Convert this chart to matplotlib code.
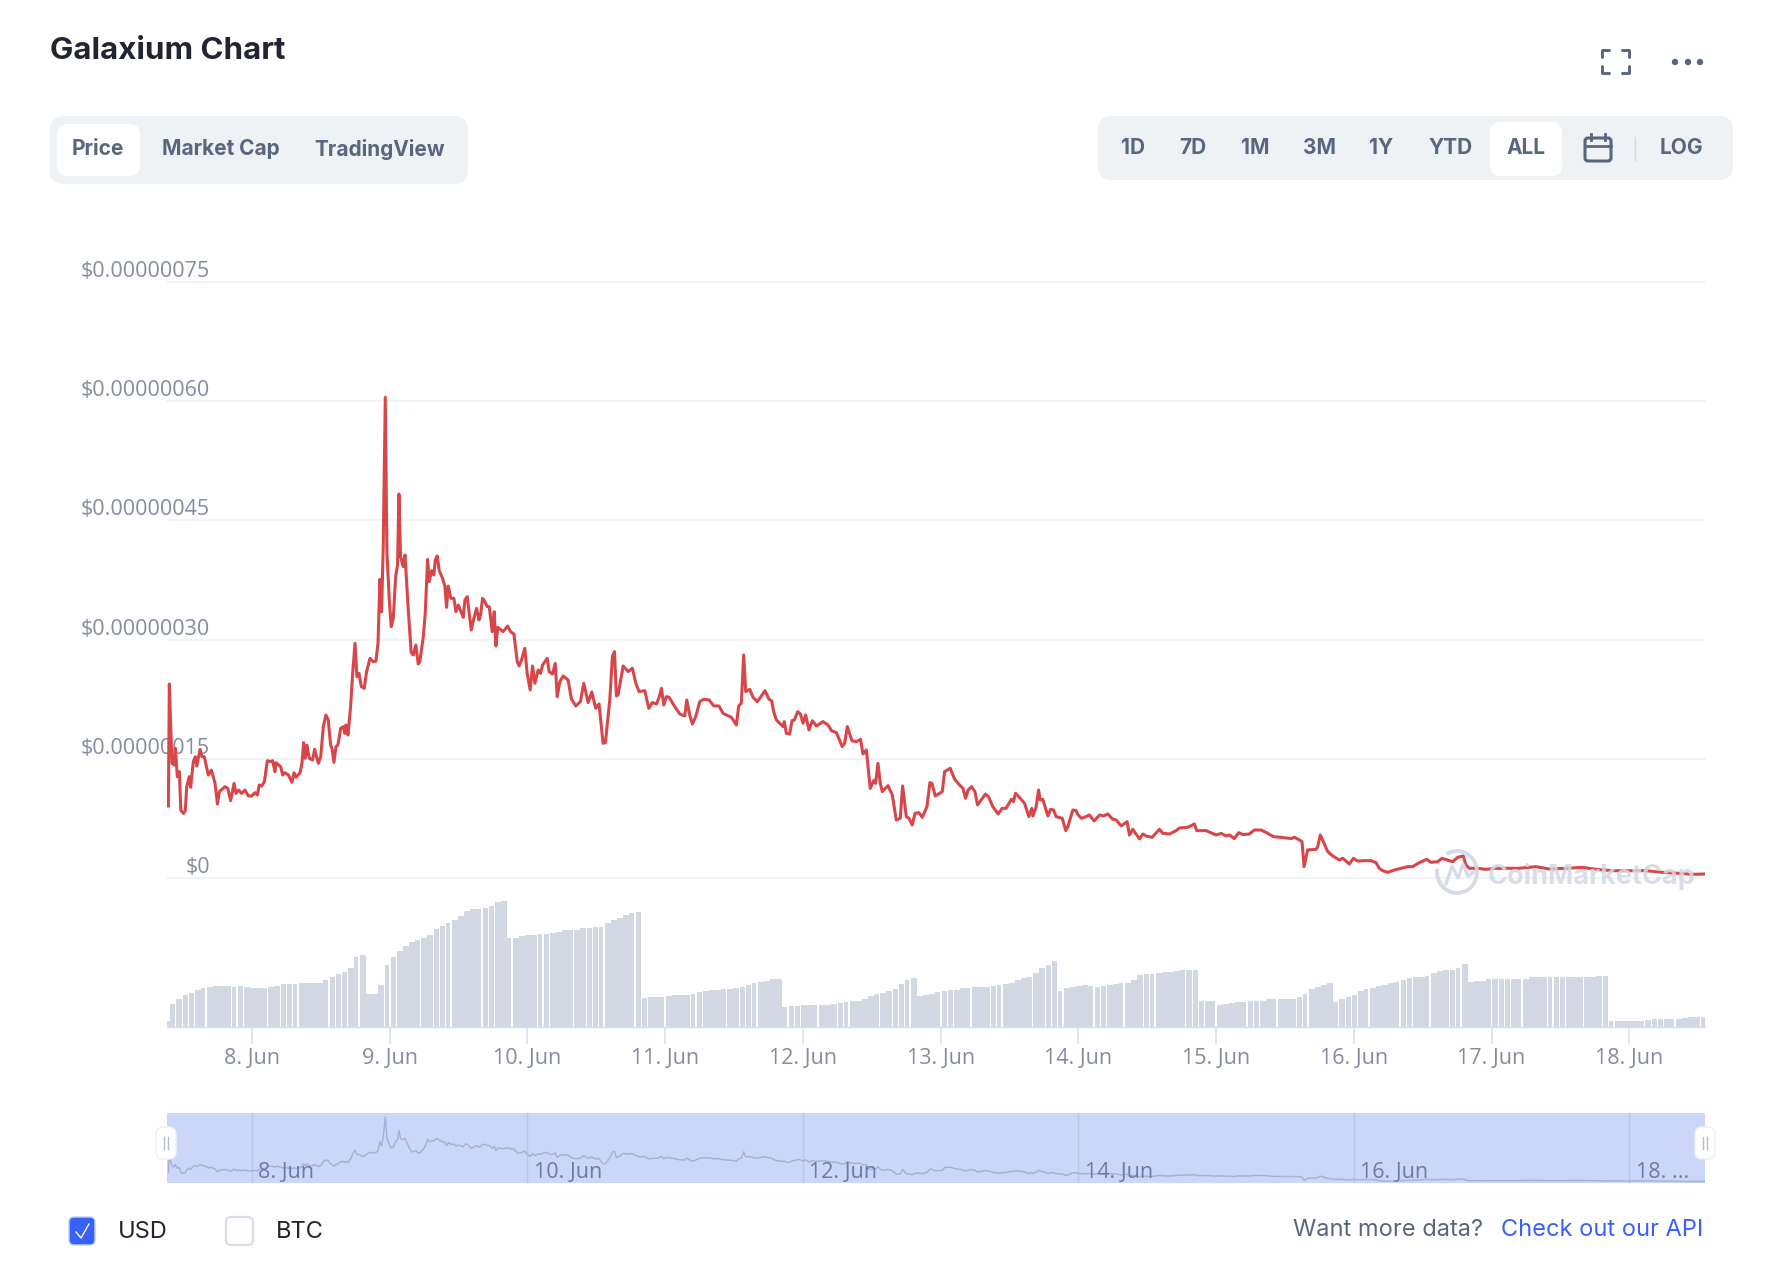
import matplotlib
matplotlib.use("Agg")
import matplotlib.pyplot as plt
from matplotlib.patches import Arc, Circle, FancyBboxPatch, Rectangle

W, H = 1780, 1282

# price, in billionths of a dollar, against day of June
price_days = [
    7.393, 7.400, 7.410, 7.420, 7.434, 7.444, 7.458, 7.473, 7.483, 7.502, 7.516, 7.526, 7.545, 7.555,
    7.574, 7.589, 7.599, 7.623, 7.637, 7.654, 7.683, 7.705, 7.732, 7.749, 7.763, 7.804, 7.824, 7.845,
    7.870, 7.884, 7.903, 7.925, 7.949, 7.974, 7.998, 8.022, 8.039, 8.053, 8.070, 8.090, 8.112, 8.136,
    8.150, 8.167, 8.174, 8.208, 8.223, 8.240, 8.264, 8.290, 8.305, 8.320, 8.349, 8.363, 8.375, 8.387,
    8.399, 8.416, 8.440, 8.455, 8.482, 8.499, 8.518, 8.537, 8.554, 8.571, 8.581, 8.595, 8.610, 8.624,
    8.644, 8.663, 8.673, 8.682, 8.697, 8.716, 8.731, 8.748, 8.762, 8.777, 8.794, 8.815, 8.832, 8.857,
    8.881, 8.900, 8.915, 8.929, 8.941, 8.953, 8.968, 8.980, 8.997, 9.011, 9.026, 9.043, 9.057, 9.067,
    9.079, 9.098, 9.111, 9.135, 9.156, 9.171, 9.190, 9.207, 9.219, 9.244, 9.258, 9.275, 9.287, 9.304,
    9.321, 9.331, 9.345, 9.360, 9.384, 9.401, 9.413, 9.425, 9.444, 9.466, 9.481, 9.498, 9.534, 9.546,
    9.563, 9.592, 9.611, 9.631, 9.648, 9.660, 9.674, 9.691, 9.708, 9.723, 9.744, 9.759, 9.771, 9.785,
    9.824, 9.856, 9.877, 9.902, 9.926, 9.940, 9.957, 9.981, 9.998, 10.020, 10.037, 10.054, 10.078,
    10.095, 10.110, 10.143, 10.158, 10.182, 10.202, 10.216, 10.235,
    10.259, 10.295, 10.320, 10.351, 10.385, 10.409, 10.441, 10.467, 10.496, 10.520, 10.549, 10.566,
    10.598, 10.617, 10.632, 10.646, 10.658, 10.695, 10.731, 10.762, 10.787, 10.811, 10.852, 10.881,
    10.907, 10.937, 10.956, 10.973, 10.990, 11.009, 11.028, 11.070, 11.106, 11.142, 11.157, 11.178,
    11.198, 11.222, 11.251, 11.280, 11.319, 11.353, 11.391, 11.420, 11.481, 11.517, 11.534, 11.553,
    11.570, 11.585, 11.614, 11.638, 11.669, 11.699, 11.725, 11.754, 11.773, 11.788, 11.807, 11.856,
    11.865, 11.880, 11.904, 11.921, 11.938, 11.962, 11.982, 12.001, 12.020, 12.044, 12.069, 12.098,
    12.146, 12.182, 12.207, 12.243, 12.286, 12.303, 12.323, 12.356, 12.388, 12.419, 12.436, 12.461,
    12.489, 12.514, 12.528, 12.545, 12.562, 12.577, 12.618, 12.649, 12.678, 12.707, 12.724, 12.751,
    12.770, 12.794, 12.814, 12.843, 12.867, 12.901, 12.922, 12.937, 12.961, 13.012, 13.029, 13.070,
    13.102, 13.138,
    13.162, 13.181, 13.200, 13.225, 13.249, 13.268, 13.295, 13.326, 13.350, 13.379, 13.418, 13.447,
    13.476, 13.513, 13.529, 13.544, 13.568, 13.609, 13.641, 13.662, 13.670, 13.694, 13.711, 13.723,
    13.742, 13.779, 13.798, 13.820, 13.839, 13.883, 13.909, 13.924, 13.960, 13.984, 13.994, 14.021,
    14.045, 14.081, 14.115, 14.154, 14.183, 14.214, 14.250, 14.275, 14.311, 14.354, 14.371, 14.395,
    14.444, 14.468, 14.492, 14.536, 14.589, 14.613, 14.662, 14.710, 14.734, 14.795, 14.843, 14.860,
    14.928, 15.000, 15.037, 15.073, 15.097, 15.133, 15.165, 15.194, 15.242, 15.278, 15.327, 15.375,
    15.416, 15.472, 15.545, 15.569, 15.605, 15.624, 15.639, 15.665, 15.726, 15.738, 15.757, 15.811,
    15.847, 15.895, 15.919, 15.968,
    15.997, 16.028, 16.077, 16.125, 16.161, 16.185, 16.210, 16.246, 16.294, 16.343, 16.391, 16.427,
    16.476, 16.529, 16.560, 16.609, 16.640, 16.681, 16.718, 16.754, 16.795, 16.814, 16.839, 16.899,
    16.960, 17.032, 17.105, 17.201, 17.322, 17.419, 17.540, 17.661, 17.758, 17.879, 18.000, 18.121,
    18.242, 18.363, 18.459, 18.549,
]
price_vals = [
    90.6, 244.1, 190.4, 144.3, 142.2, 163.1, 127.5, 133.8, 85.5, 81.3, 84.7, 114.9, 127.5, 114.1,
    146.4, 152.6, 140.9, 161.9, 152.6, 152.6, 129.6, 135.9, 119.1, 93.1, 108.6, 114.9, 112.8, 97.3,
    119.1, 106.5, 110.7, 106.5, 110.7, 103.2, 103.2, 107.4, 104.4, 117.0, 115.7, 121.2, 147.6, 146.4,
    147.6, 133.8, 145.1, 140.1, 129.6, 132.5, 129.6, 120.4, 132.5, 126.7, 132.5, 144.3, 170.3, 150.6,
    167.3, 150.6, 148.5, 161.9, 144.3, 152.6, 190.4, 205.1, 198.8, 167.3, 163.1, 145.5, 165.2, 167.3,
    188.3, 190.4, 182.0, 192.5, 179.9, 215.6, 257.5, 295.3, 253.3, 257.5, 240.8, 238.7, 259.6, 276.4,
    272.2, 273.0, 295.3, 375.8, 335.1, 416.9, 604.9, 408.6, 349.8, 316.3, 326.7, 379.2, 393.9, 483.2,
    404.4, 391.8, 406.5, 337.2, 283.5, 280.6, 293.2, 269.3, 272.2, 303.7, 333.0, 401.0, 372.9, 386.7,
    381.3, 400.2, 405.2, 386.7, 377.1, 366.6, 340.6, 367.4, 351.9, 351.9, 335.1, 343.5, 328.0, 349.8,
    354.0, 312.1, 326.7, 339.3, 324.7, 331.0, 351.9, 347.7, 341.4, 341.4, 310.0, 335.1, 291.9, 315.4,
    310.0, 317.1, 310.0, 307.0, 272.2, 266.8, 274.3, 289.0, 257.5, 236.6, 266.8, 245.0, 261.7,
    257.5, 268.0, 276.4, 259.6, 256.7, 270.1, 228.2, 247.0,
    254.2, 249.2, 224.9, 216.5, 221.9, 245.0, 220.7, 234.1, 213.5, 219.0, 169.5, 170.3,
    224.0, 278.6, 284.8, 229.0, 230.3, 266.8, 259.7, 263.9, 245.0, 234.5, 235.8, 213.5,
    220.7, 219.0, 227.4, 238.7, 217.7, 228.2, 227.4, 215.6, 206.4, 203.9, 224.0, 205.1,
    193.8, 203.0, 221.9, 224.9, 224.0, 216.5, 216.5, 207.2, 202.2, 192.6, 216.5, 219.8,
    280.7, 234.5, 237.4, 227.4, 221.9, 229.0, 235.8, 224.9, 223.2, 209.3, 198.9, 190.5,
    196.8, 182.0, 181.2, 198.0, 198.9, 209.3, 206.4, 194.7, 205.1, 186.3, 198.0, 191.3,
    196.8, 192.6, 185.4, 182.9, 165.3, 169.5, 190.5, 172.8, 171.6, 174.5, 156.1, 161.1,
    112.8, 122.5, 119.1, 144.3, 119.1, 108.7, 116.2, 104.5, 73.0, 75.1, 115.8, 77.2,
    75.1, 66.7, 81.4, 82.2, 76.4, 89.8, 120.0, 119.1, 103.2, 108.7, 133.8, 138.0,
    124.2, 117.0,
    112.9, 100.3, 110.8, 115.0, 108.7, 91.9, 98.2, 105.7, 101.5, 89.8, 80.6, 87.7,
    87.7, 99.0, 96.1, 106.6, 102.4, 94.0, 77.2, 87.7, 78.0, 89.8, 110.8, 98.2,
    99.0, 78.0, 86.4, 85.6, 77.2, 75.1, 59.6, 64.6, 85.6, 84.8, 80.6, 75.1,
    76.4, 79.3, 71.8, 79.3, 78.0, 80.6, 73.9, 73.0, 65.5, 70.9, 54.1, 61.3,
    49.1, 55.4, 52.9, 51.2, 61.3, 56.2, 55.4, 59.6, 62.9, 63.8, 68.0, 59.6,
    59.6, 54.1, 56.2, 52.9, 54.1, 49.6, 57.1, 54.6, 55.4, 60.4, 60.4, 56.2,
    52.0, 51.2, 49.6, 51.2, 47.9, 45.8, 14.3, 35.3, 36.1, 39.5, 54.1, 33.2,
    27.7, 22.7, 24.8, 17.6,
    24.7, 21.4, 21.8, 21.8, 19.3, 12.2, 9.2, 7.1, 10.0, 12.2, 14.3, 14.3,
    19.3, 23.5, 19.7, 20.5, 24.7, 22.6, 20.5, 26.0, 27.7, 16.4, 12.2, 12.2,
    10.9, 12.2, 12.2, 12.2, 14.3, 11.3, 12.2, 13.4, 10.9, 9.2, 9.2, 9.2,
    7.1, 5.9, 4.6, 5.0,
]

# volume bars, no scale on the chart so the unit is arbitrary
volume_vals = [
    6, 23, 28, 32, 34, 37, 39, 40, 41, 41, 41, 40, 41, 40, 39, 39, 39, 40, 41, 43,
    43, 43, 44, 44, 44, 44, 47, 50, 53, 55, 59, 70, 72, 33, 33, 42, 62, 70, 76, 81,
    85, 87, 89, 92, 98, 101, 104, 107, 111, 116, 118, 118, 119, 121, 125, 126, 89, 89, 91, 92,
    92, 93, 93, 94, 95, 97, 97, 97, 99, 99, 100, 100, 104, 107, 109, 112, 114, 115, 29, 30,
    30, 30, 31, 32, 32, 32, 33, 35, 36, 37, 37, 38, 38, 39, 40, 42, 44, 45, 46, 48,
    48, 20, 21, 21, 22, 22, 22, 22, 22, 23, 24, 25, 26, 26, 28, 31, 33, 34, 36, 38,
    43, 47, 49, 31, 32, 33, 35, 36, 37, 37, 39, 39, 40, 40, 40, 41, 42, 43, 44, 47,
    49, 50, 54, 59, 62, 66, 36, 39, 40, 41, 42, 41, 40, 41, 42, 43, 44, 44, 47, 52,
    53, 53, 54, 55, 55, 56, 57, 57, 57, 26, 26, 26, 22, 23, 24, 25, 25, 26, 26, 26,
    28, 28, 28, 28, 28, 30, 33, 38, 40, 42, 44, 25, 28, 30, 32, 36, 38, 39, 41, 42,
    44, 45, 47, 49, 50, 50, 51, 54, 56, 57, 57, 59, 63, 45, 46, 46, 48, 48, 48, 48,
    48, 48, 48, 50, 50, 50, 50, 50, 50, 50, 50, 50, 50, 50, 51, 51, 6, 6, 6, 6,
    6, 6, 7, 8, 8, 8, 8, 8, 9, 10, 10, 10,
]
VOLUME_START = 7.363
VOLUME_STEP = 0.04444

y_ticks = [0, 150, 300, 450, 600, 750]
y_labels = ["$0", "$0.00000015", "$0.00000030", "$0.00000045", "$0.00000060", "$0.00000075"]
day_ticks = [8, 9, 10, 11, 12, 13, 14, 15, 16, 17, 18]
day_labels = ["8. Jun", "9. Jun", "10. Jun", "11. Jun", "12. Jun", "13. Jun",
              "14. Jun", "15. Jun", "16. Jun", "17. Jun", "18. Jun"]
nav_ticks = [8, 10, 12, 14, 16, 18]
nav_labels = ["8. Jun", "10. Jun", "12. Jun", "14. Jun", "16. Jun", "18. ..."]
tabs = ["Price", "Market Cap", "TradingView"]
ranges = ["1D", "7D", "1M", "3M", "1Y", "YTD", "ALL"]

X_MIN, X_MAX = 7.383, 18.55
AXIS_GREY = "#858ca2"
BUTTON_GREY = "#58667e"
DARK = "#222531"
PANEL = "#eff2f5"
GRID = "#eff1f5"
RED = "#d8464a"
UI_FONT = "Inter"
AXIS_FONT = "Open Sans"


def px_axes(fig, left, top, right, bottom, **kwargs):
    return fig.add_axes([left / W, 1 - bottom / H, (right - left) / W, (bottom - top) / H], **kwargs)


def rounded(ax, x0, y0, x1, y1, radius, color, **kwargs):
    ax.add_patch(FancyBboxPatch((x0 + radius, y0 + radius), x1 - x0 - 2 * radius, y1 - y0 - 2 * radius,
                                boxstyle=f"round,pad={radius}", fc=color, ec=kwargs.pop("ec", "none"),
                                **kwargs))


def draw_price(fig):
    ax = px_axes(fig, 167, 282, 1705, 878)
    ax.patch.set_alpha(0)
    ax.plot(price_days, price_vals, color=RED, lw=2.2, solid_joinstyle="round", zorder=3)
    ax.set_xlim(X_MIN, X_MAX)
    ax.set_ylim(0, 750)
    ax.set_xticks([])
    ax.set_yticks(y_ticks, y_labels)
    ax.set_axisbelow(True)
    ax.grid(axis="y", color=GRID, lw=1.1)
    ax.tick_params(axis="y", length=0, pad=-31, labelsize=15.5, labelcolor=AXIS_GREY)
    for label in ax.get_yticklabels():
        label.set_fontfamily(AXIS_FONT)
        label.set_verticalalignment("bottom")
    for spine in ax.spines.values():
        spine.set_visible(False)
    for tick in ax.yaxis.get_major_ticks():
        tick.gridline.set_clip_on(False)


def draw_volume(fig):
    ax = px_axes(fig, 167, 897, 1705, 1027)
    ax.patch.set_alpha(0)
    for i, v in enumerate(volume_vals):
        # the page shows a clear white slit about every fifth bar
        frac = 0.72 if i % 5 == 1 else 0.94
        ax.bar(VOLUME_START + i * VOLUME_STEP, v, width=VOLUME_STEP * frac, align="edge",
               color="#d1d7e3", lw=0)
    ax.set_xlim(X_MIN, X_MAX)
    ax.set_ylim(0, 130)
    ax.set_yticks([])
    ax.set_xticks(day_ticks, day_labels)
    ax.tick_params(axis="x", length=12.2, width=1.1, color="#d8deea", pad=3, labelsize=15.5,
                   labelcolor=AXIS_GREY)
    for label in ax.get_xticklabels():
        label.set_fontfamily(AXIS_FONT)
    for name, spine in ax.spines.items():
        spine.set_visible(name == "bottom")
    ax.spines["bottom"].set_color("#d8deea")
    ax.spines["bottom"].set_linewidth(1.0)


def draw_navigator(fig):
    ax = px_axes(fig, 167, 1113, 1705, 1183)
    ax.set_facecolor("#cbd6f8")
    ax.plot(price_days, price_vals, color="#a4afdb", lw=1.0)
    ax.set_xlim(X_MIN, X_MAX)
    ax.set_ylim(-10, 643)
    ax.set_yticks([])
    ax.set_xticks(nav_ticks, [""] * len(nav_ticks))
    ax.tick_params(axis="x", length=0)
    ax.set_axisbelow(True)
    ax.grid(axis="x", color="#b9c5ea", lw=1.0)
    for d, label in zip(nav_ticks, nav_labels):
        ax.annotate(label, (d, 0), xycoords=("data", "axes fraction"), xytext=(4.5, 3.5),
                    textcoords="offset points", fontsize=15.5, color="#6b7aab", family=AXIS_FONT,
                    annotation_clip=False)
    for spine in ax.spines.values():
        spine.set_visible(False)


def draw_header(ui):
    ui.text(50, 51, "Galaxium Chart", fontsize=22.5, weight="bold", color=DARK, family=UI_FONT, va="center")

    # left tab group
    rounded(ui, 50, 116, 468, 184, 14, PANEL)
    rounded(ui, 57, 124, 140, 176, 11, "white")
    for name, cx in zip(tabs, [98, 221, 380]):
        ui.text(cx, 149, name, fontsize=15, weight="bold", color=BUTTON_GREY, family=UI_FONT,
                ha="center", va="center")

    # right range group
    rounded(ui, 1098, 116, 1733, 180, 14, PANEL)
    rounded(ui, 1490, 122, 1562, 176, 11, "white")
    for name, cx in zip(ranges, [1133, 1193, 1255, 1320, 1381, 1451, 1526]):
        ui.text(cx, 148, name, fontsize=15, weight="bold", color=BUTTON_GREY, family=UI_FONT,
                ha="center", va="center")
    ui.text(1681, 148, "LOG", fontsize=15, weight="bold", color=BUTTON_GREY, family=UI_FONT,
            ha="center", va="center")
    ui.plot([1635, 1635], [137, 160], color="#cfd6e4", lw=1)

    # calendar icon
    rounded(ui, 1585, 138, 1611, 161, 3, "none", ec=BUTTON_GREY, lw=2.2)
    ui.plot([1585, 1611], [146, 146], color=BUTTON_GREY, lw=2)
    for x in [1591, 1605]:
        ui.plot([x, x], [134, 140], color=BUTTON_GREY, lw=2)

    # fullscreen icon
    for xs, ys in [([1602, 1602, 1609], [57, 50, 50]), ([1622, 1629, 1629], [50, 50, 57]),
                   ([1602, 1602, 1609], [66, 73, 73]), ([1622, 1629, 1629], [73, 73, 66])]:
        ui.plot(xs, ys, color=BUTTON_GREY, lw=2.1, solid_capstyle="round")

    # three dots
    for x in [1675, 1688, 1700]:
        ui.add_patch(Circle((x, 62), 3.2, fc=BUTTON_GREY, ec="none"))


def draw_footer(ui):
    rounded(ui, 69, 1217, 95, 1245, 5, "#3861fb", ec="#c4d0f5", lw=1)
    ui.plot([76, 81, 89], [1232, 1238, 1224], color="white", lw=1.0)
    ui.text(118, 1232, "USD", fontsize=17, color=DARK, family=UI_FONT, va="center")
    rounded(ui, 226, 1217, 253, 1245, 5, "white", ec="#d8dde8", lw=1.6)
    ui.text(276, 1232, "BTC", fontsize=17, color=DARK, family=UI_FONT, va="center")
    ui.text(1483, 1230, "Want more data?", fontsize=17, color=BUTTON_GREY, family=UI_FONT,
            ha="right", va="center")
    ui.text(1703, 1230, "Check out our API", fontsize=17, color="#3861fb", family=UI_FONT,
            ha="right", va="center")


def draw_overlays(ui):
    # navigator handles
    for x0 in [156, 1695]:
        rounded(ui, x0, 1127, x0 + 20, 1159, 7, "white", ec="#eef0f5", lw=1)
        for dx in [8, 12]:
            ui.plot([x0 + dx, x0 + dx], [1137, 1149], color="#b4bccd", lw=1)

    # watermark sits on top of the line
    mark = "#d3d8e4"
    ui.add_patch(Arc((1457, 872), 40, 42, theta1=-120, theta2=190, color=mark, lw=2.8, alpha=0.9, zorder=6))
    ui.plot([1446, 1452, 1458, 1463, 1468, 1474], [884, 866, 878, 864, 876, 872], color=mark, lw=2.4,
            alpha=0.9, zorder=6)
    ui.text(1592, 876, "CoinMarketCap", fontsize=19.5, weight="bold", color=mark, family=UI_FONT,
            ha="center", va="center", alpha=0.85, zorder=6)


def main():
    plt.rcParams["font.family"] = [UI_FONT, "DejaVu Sans"]
    fig = plt.figure(figsize=(W / 100, H / 100), dpi=100, facecolor="white")
    draw_price(fig)
    draw_volume(fig)
    draw_navigator(fig)

    ui = fig.add_axes([0, 0, 1, 1], zorder=10)
    ui.set_xlim(0, W)
    ui.set_ylim(H, 0)
    ui.axis("off")
    draw_header(ui)
    draw_footer(ui)
    draw_overlays(ui)

    fig.savefig("out.png", dpi=100)
    plt.close(fig)


if __name__ == "__main__":
    main()
